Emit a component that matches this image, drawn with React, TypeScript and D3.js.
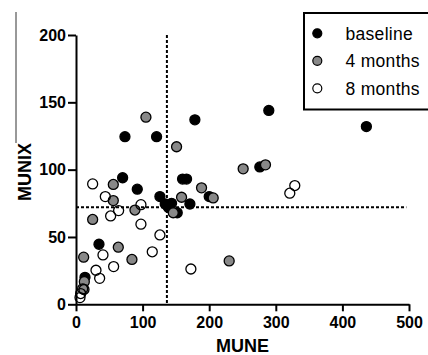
import React, { useEffect, useRef } from "react";
import * as d3 from "d3";

// values: [MUNE, MUNIX]
const baseline: [number, number][] = [
  [70, 94], [92, 85.5], [126, 80], [160, 93], [166, 93], [171, 74.5],
  [134, 74.5], [143.5, 75], [138.5, 72], [152, 68], [200, 80],
  [73.5, 124.5], [121, 124.5], [178.5, 137], [289.5, 144], [276, 102],
  [436, 132], [34.5, 44.6], [13.5, 20],
];
const months4: [number, number][] = [
  [56, 89], [188.5, 86.5], [56, 77], [158.5, 79.5], [206, 79], [146, 68],
  [88.5, 70], [25, 63], [63.5, 42.4], [11.5, 35], [84, 33.3], [12.5, 16.8],
  [105, 139], [151, 117], [251, 100.6], [284.5, 103.6], [230, 32.2], [12, 11],
];
const months8: [number, number][] = [
  [25, 89.4], [44, 80], [64, 69.6], [97.5, 74], [52, 65.6], [97.5, 59.5],
  [126, 51.5], [40.5, 36.7], [114.5, 39], [56.5, 28], [30, 25.3],
  [35.5, 19.3], [172.5, 26.2], [328.5, 88.2], [321, 82.5], [10, 11.5],
  [7, 8], [6, 5],
];
const seriesNames = ["baseline", "4 months", "8 months"];
const xTicks = [0, 100, 200, 300, 400, 500];
const yTicks = [0, 50, 100, 150, 200];
const cutMune = 136.5;
const cutMunix = 72;

const App: React.FC = () => {
  const svgRef = useRef<SVGSVGElement | null>(null);

  useEffect(() => {
    const width = 428;
    const height = 355;
    const font = "'Liberation Sans', Arial, sans-serif";

    const x = d3.scaleLinear().domain([0, 500]).range([76, 409]);
    const y = d3.scaleLinear().domain([0, 200]).range([304.3, 35]);

    const svg = d3
      .select(svgRef.current)
      .attr("width", width)
      .attr("height", height)
      .style("font-family", font);
    svg.selectAll("*").remove();

    svg.append("rect").attr("width", width).attr("height", height).attr("fill", "white");

    // stray panel edge at far left
    svg
      .append("line")
      .attr("x1", 16)
      .attr("x2", 16)
      .attr("y1", 12)
      .attr("y2", 143)
      .attr("stroke", "#333")
      .attr("stroke-width", 1);

    // cut-off lines
    svg
      .append("line")
      .attr("x1", x(cutMune))
      .attr("x2", x(cutMune))
      .attr("y1", y(200))
      .attr("y2", y(0))
      .attr("stroke", "black")
      .attr("stroke-width", 2)
      .attr("stroke-dasharray", "3,2");
    svg
      .append("line")
      .attr("x1", x(0))
      .attr("x2", x(496))
      .attr("y1", y(cutMunix))
      .attr("y2", y(cutMunix))
      .attr("stroke", "black")
      .attr("stroke-width", 2)
      .attr("stroke-dasharray", "3,2");

    // axes
    const gx = svg
      .append("g")
      .attr("transform", `translate(0,${y(0)})`)
      .call(d3.axisBottom(x).tickValues(xTicks).tickSize(7).tickSizeOuter(0).tickPadding(5));
    const gy = svg
      .append("g")
      .attr("transform", `translate(${x(0)},0)`)
      .call(d3.axisLeft(y).tickValues(yTicks).tickSize(8).tickSizeOuter(0).tickPadding(2));
    [gx, gy].forEach((g) => {
      g.select(".domain").attr("stroke", "black").attr("stroke-width", 2);
      g.selectAll(".tick line").attr("stroke", "black").attr("stroke-width", 2);
      g.selectAll("text")
        .attr("fill", "black")
        .style("font-size", "16px")
        .style("font-weight", "bold")
        .style("font-family", font);
    });

    // points
    const styles = [
      { fill: "black", data: baseline },
      { fill: "#888888", data: months4 },
      { fill: "none", data: months8 },
    ];
    styles.forEach((s) => {
      svg
        .append("g")
        .selectAll("circle")
        .data(s.data)
        .enter()
        .append("circle")
        .attr("cx", (d) => x(d[0]))
        .attr("cy", (d) => y(d[1]))
        .attr("r", 5)
        .attr("fill", s.fill)
        .attr("stroke", "black")
        .attr("stroke-width", 1.3);
    });

    // axis titles
    svg
      .append("text")
      .attr("x", (x(0) + x(500)) / 2)
      .attr("y", 352)
      .attr("text-anchor", "middle")
      .style("font-size", "18px")
      .style("font-weight", "bold")
      .text("MUNE");
    svg
      .append("text")
      .attr("transform", `translate(31,172) rotate(-90)`)
      .attr("text-anchor", "middle")
      .style("font-size", "18px")
      .style("font-weight", "bold")
      .text("MUNIX");

    // legend
    const legend = svg.append("g");
    legend
      .append("rect")
      .attr("x", 304)
      .attr("y", 13)
      .attr("width", 140)
      .attr("height", 96.5)
      .attr("fill", "white")
      .attr("stroke", "black")
      .attr("stroke-width", 2);
    seriesNames.forEach((name, i) => {
      const cy = 33.3 + i * 27.5;
      legend
        .append("circle")
        .attr("cx", 317.3)
        .attr("cy", cy)
        .attr("r", 4.5)
        .attr("fill", ["black", "#888888", "white"][i])
        .attr("stroke", "black")
        .attr("stroke-width", 1.2);
      legend
        .append("text")
        .attr("x", 345.5)
        .attr("y", cy + 6.5)
        .style("font-size", "17.5px")
        .style("letter-spacing", "0.3px")
        .text(name);
    });
  }, []);

  return (
    <div style={{ position: "absolute", left: 0, top: 0 }}>
      <svg ref={svgRef}></svg>
    </div>
  );
};

export default App;
